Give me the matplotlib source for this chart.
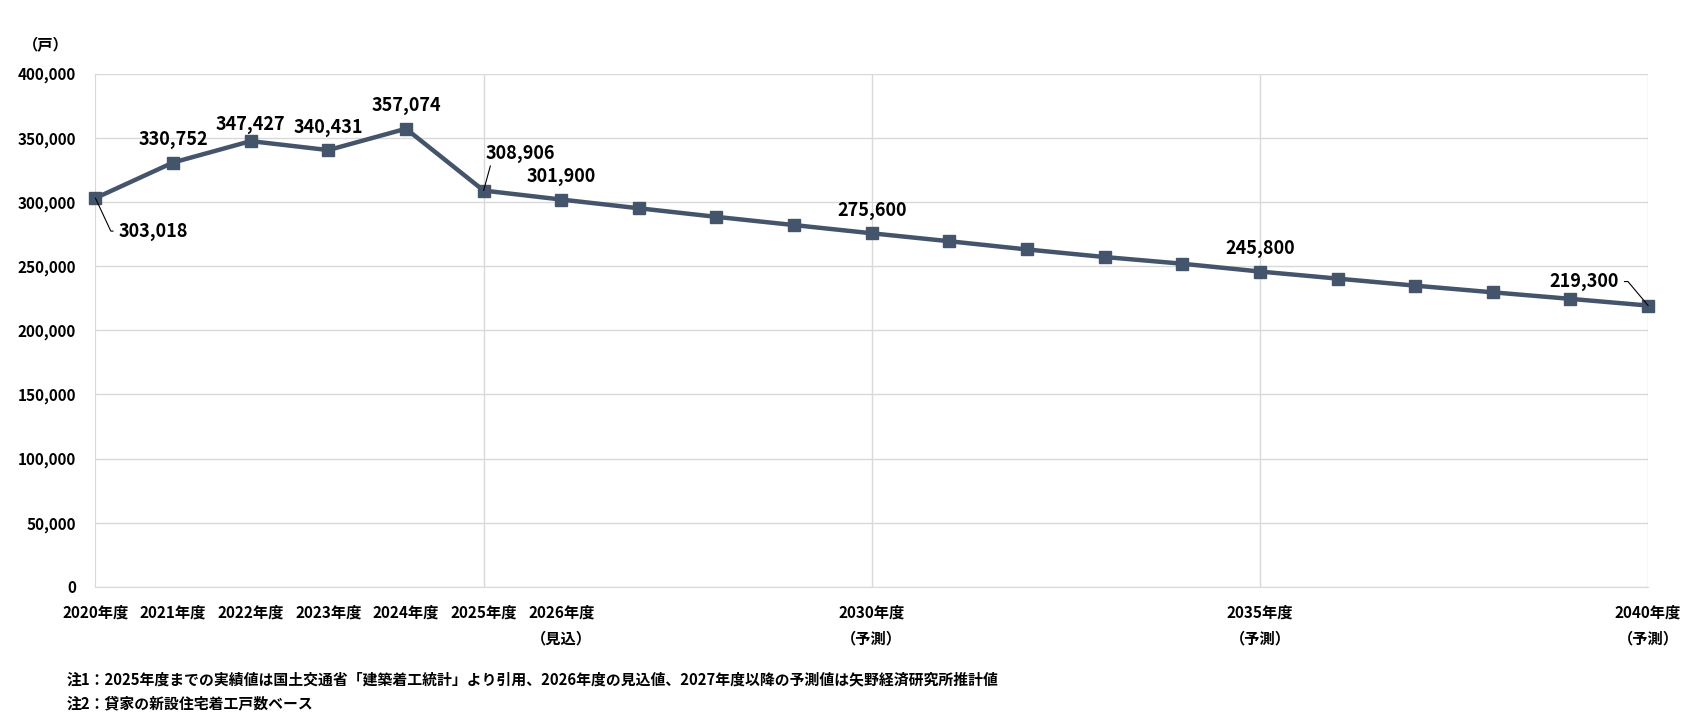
import matplotlib

matplotlib.use("Agg")
import matplotlib.pyplot as plt
from matplotlib.ticker import FuncFormatter

plt.rcParams["font.family"] = ["Noto Sans CJK JP", "DejaVu Sans"]
plt.rcParams["font.weight"] = "bold"

# 年度と着工戸数（2027年度以降の途中年は図から読み取り）
years = [2020, 2021, 2022, 2023, 2024, 2025, 2026, 2027, 2028, 2029, 2030,
         2031, 2032, 2033, 2034, 2035, 2036, 2037, 2038, 2039, 2040]
units = [303018, 330752, 347427, 340431, 357074, 308906, 301900, 295100,
         288400, 282000, 275600, 269400, 263000, 257100, 251900, 245800,
         240300, 234800, 229600, 224500, 219300]

tick_years = [2020, 2021, 2022, 2023, 2024, 2025, 2026, 2030, 2035, 2040]
tick_labels = ["2020年度", "2021年度", "2022年度", "2023年度", "2024年度",
               "2025年度", "2026年度\n（見込）", "2030年度\n（予測）",
               "2035年度\n（予測）", "2040年度\n（予測）"]
label_years = [2020, 2021, 2022, 2023, 2024, 2025, 2026, 2030, 2035, 2040]

notes = [
    "注1：2025年度までの実績値は国土交通省「建築着工統計」より引用、2026年度の見込値、2027年度以降の予測値は矢野経済研究所推計値",
    "注2：貸家の新設住宅着工戸数ベース",
]

LINE_COLOR = "#44546a"
GRID_COLOR = "#d9d9d9"

fig = plt.figure(figsize=(17.01, 7.22), dpi=100)
ax = fig.add_axes([0.0561, 0.187, 0.9128, 0.711])

ax.plot(years, units, color=LINE_COLOR, lw=3.2, marker="s", markersize=9,
        clip_on=False, zorder=3)

ax.set_xlim(2020, 2040)
ax.set_ylim(0, 400000)
ax.set_yticks(range(0, 400001, 50000))
ax.yaxis.set_major_formatter(FuncFormatter(lambda v, p: f"{int(v):,}"))
ax.set_xticks(tick_years)
ax.set_xticklabels(tick_labels, linespacing=1.75)

ax.grid(axis="y", color=GRID_COLOR, lw=1)
for y in [2025, 2030, 2035, 2040]:
    ax.axvline(y, color=GRID_COLOR, lw=1, zorder=0)
ax.set_axisbelow(True)
for s in ["top", "right"]:
    ax.spines[s].set_visible(False)
for s in ["left", "bottom"]:
    ax.spines[s].set_color(GRID_COLOR)
ax.tick_params(axis="both", length=0, labelsize=11)
ax.tick_params(axis="x", pad=13)
ax.tick_params(axis="y", pad=14)
for t in ax.get_xticklabels() + ax.get_yticklabels():
    t.set_fontweight("bold")

# データラベル（オフセットは画素単位）
offsets = {2020: (58, -33), 2025: (37, 37), 2040: (-64, 24)}
for yr in label_years:
    v = units[years.index(yr)]
    dx, dy = offsets.get(yr, (0, 23))
    if yr == 2022:
        dy = 17
    kw = {}
    if yr == 2020:
        kw["arrowprops"] = dict(arrowstyle="-", lw=0.8, color="black",
                                shrinkA=2, shrinkB=0, relpos=(0, 0.5),
                                connectionstyle="angle,angleA=0,angleB=-65,rad=0")
    elif yr == 2025:
        kw["arrowprops"] = dict(arrowstyle="-", lw=0.8, color="black",
                                shrinkA=0, shrinkB=0, relpos=(0.08, 0.05))
    elif yr == 2040:
        kw["arrowprops"] = dict(arrowstyle="-", lw=0.8, color="black",
                                shrinkA=2, shrinkB=0, relpos=(1, 0.5),
                                connectionstyle="angle,angleA=0,angleB=-50,rad=0")
    ax.annotate(f"{v:,}", xy=(yr, v), xytext=(dx, dy),
                textcoords="offset pixels", ha="center", va="center",
                fontsize=13, fontweight="bold", annotation_clip=False, **kw)

fig.text(46 / 1701, 1 - 45 / 722, "（戸）", ha="center", va="center",
         fontsize=11, fontweight="bold")
fig.text(67 / 1701, 1 - 679 / 722, notes[0], ha="left", va="center",
         fontsize=10.7, fontweight="bold")
fig.text(67 / 1701, 1 - 703 / 722, notes[1], ha="left", va="center",
         fontsize=10.7, fontweight="bold")

fig.savefig("out.png", dpi=100, facecolor="white")
